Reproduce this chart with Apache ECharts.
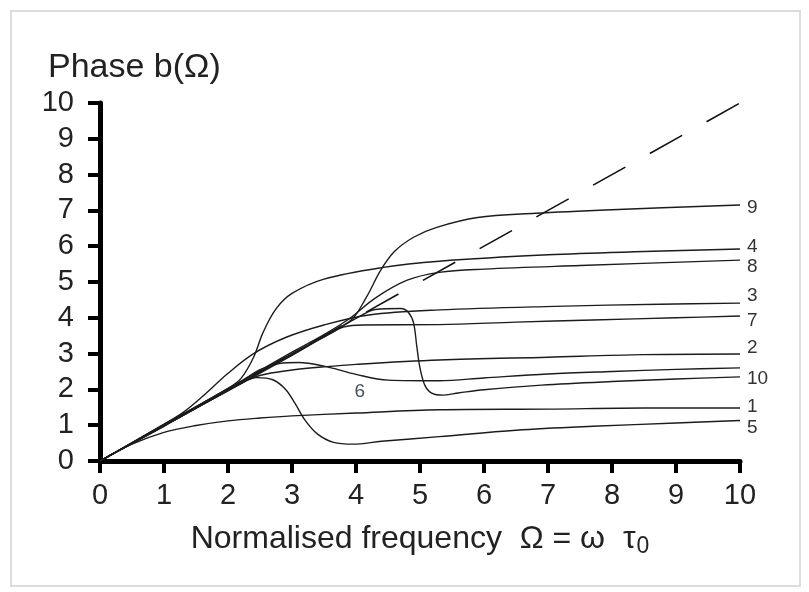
<!DOCTYPE html>
<html>
<head>
<meta charset="utf-8">
<script src="https://cdn.jsdelivr.net/npm/echarts@6/dist/echarts.min.js"></script>
<style>
  html, body { margin: 0; padding: 0; background: #fff; }
  #chart { width: 809px; height: 592px; }
</style>
</head>
<body>
<div id="chart"></div>
<script>
// phase curves b(Omega) as [omega, phase]
const phase1 = [[0, 0], [0.5, 0.47], [1, 0.8], [1.5, 0.99], [2, 1.12], [2.5, 1.2], [3, 1.26], [4, 1.34], [5.3, 1.43], [7, 1.45], [8.5, 1.48], [10, 1.48]];
const phase2 = [[0, 0], [1, 0.98], [2, 1.97], [2.3, 2.27], [2.6, 2.43], [3, 2.54], [3.5, 2.63], [4, 2.7], [5.3, 2.82], [7, 2.9], [8.5, 2.97], [10, 2.99]];
const phase3 = [[0, 0], [1, 1.03], [1.3, 1.36], [1.6, 1.8], [2, 2.45], [2.4, 3.0], [2.9, 3.45], [3.5, 3.8], [4.2, 4.08], [5.3, 4.22], [7.1, 4.32], [8.75, 4.38], [10, 4.41]];
const phase4 = [[0, 0], [1, 1.02], [2, 2.03], [2.2, 2.3], [2.4, 2.9], [2.55, 3.6], [2.75, 4.25], [3, 4.68], [3.5, 5.08], [4.4, 5.4], [5.3, 5.58], [7, 5.76], [8.5, 5.85], [10, 5.92]];
const phase5 = [[0, 0], [1, 0.97], [2.2, 2.16], [2.45, 2.33], [2.7, 2.27], [2.9, 2.0], [3.05, 1.6], [3.2, 1.15], [3.4, 0.75], [3.65, 0.52], [3.95, 0.47], [4.4, 0.55], [5.3, 0.68], [6.5, 0.86], [7.7, 0.97], [9, 1.06], [10, 1.13]];
const phase6 = [[0, 0], [1, 1.0], [2.2, 2.22], [2.5, 2.55], [2.8, 2.72], [3.1, 2.75], [3.5, 2.65], [4, 2.42], [4.5, 2.26], [5.3, 2.24], [6, 2.32], [7, 2.43], [8, 2.5], [9, 2.56], [10, 2.6]];
const phase7 = [[0, 0], [1, 0.99], [2, 1.96], [3, 2.95], [3.6, 3.57], [3.8, 3.74], [4.1, 3.8], [5.3, 3.81], [6.5, 3.88], [7.7, 3.94], [9, 4.0], [10, 4.05]];
const phase8 = [[0, 0], [1, 1.01], [2, 2.02], [3, 3.04], [3.5, 3.53], [3.9, 3.98], [4.3, 4.55], [4.8, 5.05], [5.3, 5.27], [6, 5.36], [7.5, 5.46], [10, 5.61]];
const phase9 = [[0, 0], [1, 1.0], [2, 1.99], [3, 3.0], [3.9, 3.9], [4.17, 4.6], [4.375, 5.3], [4.6, 5.85], [4.9, 6.25], [5.25, 6.52], [5.9, 6.8], [6.8, 6.92], [8, 7.02], [10, 7.15]];
const phase10 = [[0, 0], [1, 0.99], [2, 1.98], [3, 2.97], [4.1, 4.08], [4.3, 4.23], [4.7, 4.26], [4.82, 4.15], [4.9, 3.85], [4.95, 3.2], [5.0, 2.6], [5.08, 2.1], [5.2, 1.88], [5.35, 1.84], [5.6, 1.9], [6, 1.99], [6.9, 2.12], [8, 2.22], [9, 2.29], [10, 2.35]];

// ideal linear phase b = omega
const linearPhase = [[0, 0], [10, 10]];

const curveNames = ["1", "2", "3", "4", "5", "6", "7", "8", "9", "10"];
const curveData = [phase1, phase2, phase3, phase4, phase5, phase6, phase7, phase8, phase9, phase10];

// vertical nudges for the end labels, so they sit like the original
const labelNudge = { "1": -1, "2": -6, "3": -7, "4": -2, "5": 7, "7": 5, "8": 7, "9": 3, "10": 2 };

const font = "Liberation Sans, Arial, Helvetica, sans-serif";

const chart = echarts.init(document.getElementById("chart"));

const curveSeries = curveNames.map((name, i) => ({
  name: name,
  type: "line",
  data: curveData[i],
  smooth: 0.35,
  showSymbol: false,
  z: 3,
  lineStyle: { color: "#1c1c1c", width: 1.4 },
  endLabel: {
    show: name !== "6",
    formatter: name,
    distance: 7,
    offset: [0, labelNudge[name] || 0],
    fontFamily: font,
    fontSize: 19,
    color: "#333",
  },
  markPoint: name === "6" ? {
    symbol: "circle",
    symbolSize: 0,
    data: [{ coord: [4.06, 1.93] }],
    label: {
      show: true,
      position: "inside",
      formatter: "6",
      fontFamily: font,
      fontSize: 19,
      color: "#4a5060",
    },
  } : undefined,
}));

const option = {
  backgroundColor: "#fff",
  animation: false,
  title: {
    text: "Phase b(Ω)",
    left: 43,
    top: 46,
    textStyle: { fontFamily: font, fontSize: 34, fontWeight: "normal", color: "#222" },
  },
  graphic: [
    {
      type: "rect",
      shape: { x: 11, y: 11, width: 789, height: 575 },
      style: { fill: "none", stroke: "#dcdcdc", lineWidth: 2 },
      silent: true,
    },
  ],
  grid: { left: 100, right: 69, top: 103, bottom: 131, containLabel: false },
  xAxis: {
    type: "value",
    min: 0,
    max: 10,
    interval: 1,
    name: "{n|Normalised frequency  Ω = ω  τ}{s|0}",
    nameLocation: "middle",
    nameGap: 60,
    nameTextStyle: {
      rich: {
        n: { fontFamily: font, fontSize: 32, color: "#222" },
        s: { fontFamily: font, fontSize: 23, color: "#222", padding: [14, 0, 0, 1] },
      },
    },
    axisLine: { show: true, lineStyle: { color: "#000", width: 5 } },
    axisTick: { show: true, length: 12, lineStyle: { color: "#000", width: 4 } },
    axisLabel: { margin: 20, fontFamily: font, fontSize: 29, color: "#222" },
    splitLine: { show: false },
  },
  yAxis: {
    type: "value",
    min: 0,
    max: 10,
    interval: 1,
    axisLine: { show: true, lineStyle: { color: "#000", width: 5 } },
    axisTick: { show: true, length: 12, lineStyle: { color: "#000", width: 4 } },
    axisLabel: { margin: 26, fontFamily: font, fontSize: 29, color: "#222" },
    splitLine: { show: false },
  },
  series: [
    {
      name: "linear",
      type: "line",
      data: linearPhase,
      showSymbol: false,
      z: 2,
      lineStyle: { color: "#111", width: 1.6, type: [37, 28], dashOffset: 20 },
    },
    ...curveSeries,
  ],
};

chart.setOption(option);
</script>
</body>
</html>
